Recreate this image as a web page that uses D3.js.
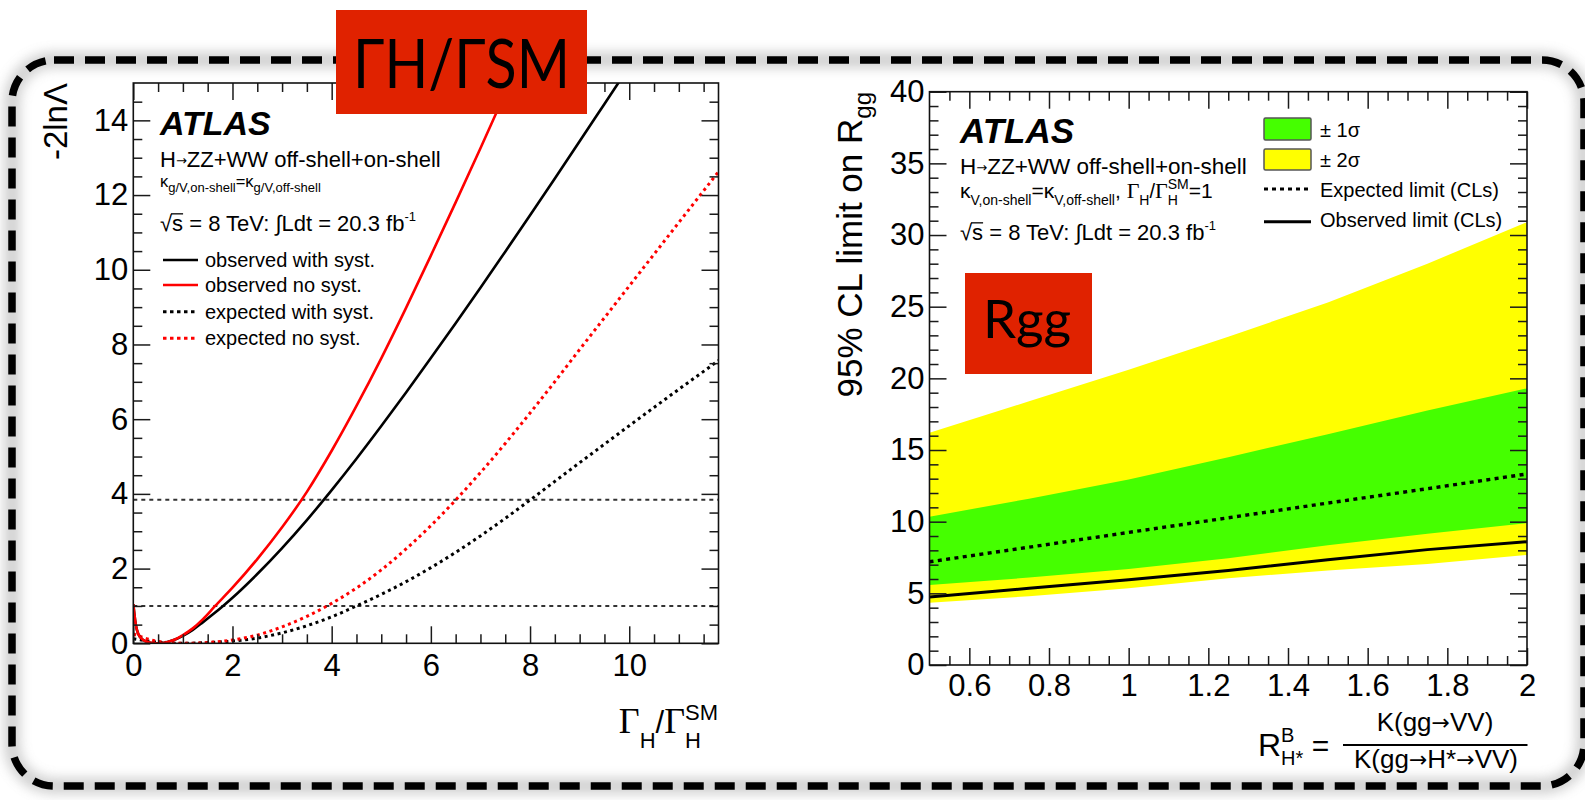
<!DOCTYPE html>
<html>
<head>
<meta charset="utf-8">
<title>Higgs width and R_gg limits</title>
<script src="https://cdn.jsdelivr.net/npm/d3@7/dist/d3.min.js"></script>
<style>
  html, body { margin: 0; padding: 0; background: #ffffff; }
  svg { display: block; }
  text { font-family: "Liberation Sans", Arial, Helvetica, sans-serif; fill: #000; }
</style>
</head>
<body>
<svg id="fig" width="1585" height="800"></svg>
<script>
// ---------- Left panel: -2 ln(Lambda) versus Gamma_H / Gamma_H^SM ----------
const obsSystX   = [0, 0.02, 0.05, 0.1, 0.2, 0.3, 0.45, 0.6, 0.8, 1.0, 1.2, 1.4, 1.6, 1.81, 2, 2.5, 3, 3.5, 4, 4.5, 5, 5.5, 6, 6.5, 7, 7.5, 8, 8.5, 9, 9.5, 10];
const obsSystY   = [1.05, 0.8, 0.5, 0.25, 0.09, 0.03, 0, 0.01, 0.08, 0.2, 0.36, 0.56, 0.77, 1.0, 1.22, 1.855, 2.55, 3.3, 4.1, 4.94, 5.815, 6.715, 7.635, 8.57, 9.52, 10.485, 11.46, 12.445, 13.44, 14.44, 15.44];

const obsNoSystX = [0, 0.02, 0.05, 0.1, 0.2, 0.3, 0.45, 0.6, 0.8, 1.0, 1.2, 1.4, 1.65, 2, 2.5, 3, 3.5, 4, 4.5, 5, 5.5, 6, 6.5, 7, 7.5, 7.7];
const obsNoSystY = [1.05, 0.8, 0.5, 0.25, 0.09, 0.03, 0, 0.01, 0.08, 0.22, 0.4, 0.64, 1.0, 1.49, 2.255, 3.105, 4.055, 5.155, 6.355, 7.63, 8.98, 10.38, 11.805, 13.255, 14.73, 15.33];

const expSystX   = [0, 0.5, 1, 1.5, 2, 2.5, 3, 3.5, 4, 4.5, 5, 5.5, 6, 6.5, 7, 7.5, 8, 8.5, 9, 9.5, 10, 10.5, 11, 11.5, 11.8];
const expSystY   = [0.12, 0.03, 0, 0.02, 0.06, 0.14, 0.28, 0.47, 0.71, 1.0, 1.31, 1.65, 2.025, 2.435, 2.875, 3.345, 3.835, 4.335, 4.835, 5.33, 5.825, 6.315, 6.8, 7.28, 7.57];

const expNoSystX = [0, 0.5, 1, 1.5, 2, 2.5, 3, 3.5, 4, 4.5, 5, 5.5, 6, 6.5, 7, 7.5, 8, 8.5, 9, 9.5, 10, 10.5, 11, 11.5, 11.8];
const expNoSystY = [0.25, 0.05, 0, 0.02, 0.09, 0.22, 0.44, 0.72, 1.07, 1.48, 1.965, 2.525, 3.15, 3.835, 4.57, 5.35, 6.165, 7.005, 7.865, 8.715, 9.565, 10.415, 11.265, 12.115, 12.625];

const nllThresholds = [1, 3.84];

const gammaMajorTicks  = [0, 2, 4, 6, 8, 10];
const gammaTickLabels  = ["0", "2", "4", "6", "8", "10"];
const nllMajorTicks    = [0, 2, 4, 6, 8, 10, 12, 14];
const nllTickLabels    = ["0", "2", "4", "6", "8", "10", "12", "14"];

const leftLegend = ["observed with syst.", "observed no syst.", "expected with syst.", "expected no syst."];

// ---------- Right panel: 95% CL limit on R_gg versus R^B_H* ----------
const rB          = [0.5, 0.75, 1.0, 1.25, 1.5, 1.75, 2.0];
const band2Upper  = [16.2, 18.4, 20.6, 22.9, 25.3, 28.0, 30.9];
const band1Upper  = [10.35, 11.6, 12.95, 14.5, 16.1, 17.75, 19.3];
const expectedLim = [7.2, 8.22, 9.25, 10.27, 11.3, 12.3, 13.33];
const band1Lower  = [5.58, 6.1, 6.7, 7.45, 8.35, 9.15, 9.9];
const band2Lower  = [4.35, 4.8, 5.35, 6.05, 6.6, 7.05, 7.68];
const observedLim = [4.75, 5.35, 5.95, 6.6, 7.35, 8.05, 8.6];

const rbMajorTicks  = [0.6, 0.8, 1.0, 1.2, 1.4, 1.6, 1.8, 2.0];
const rbTickLabels  = ["0.6", "0.8", "1", "1.2", "1.4", "1.6", "1.8", "2"];
const rggMajorTicks = [0, 5, 10, 15, 20, 25, 30, 35, 40];
const rggTickLabels = ["0", "5", "10", "15", "20", "25", "30", "35", "40"];

const rightLegend = ["± 1σ", "± 2σ", "Expected limit (CLs)", "Observed limit (CLs)"];

// ---------- drawing ----------
const RED = "#ff0000", GREEN = "#45ff00", YELLOW = "#ffff00", TAG = "#e02200";
const SERIF = "'Liberation Serif', 'Times New Roman', serif";
const ARROW = "'DejaVu Sans', sans-serif";
const svg = d3.select("#fig");
const defs = svg.append("defs");
defs.append("filter").attr("id", "soft")
  .attr("x", "-6%").attr("y", "-8%").attr("width", "112%").attr("height", "116%")
  .append("feGaussianBlur").attr("stdDeviation", 6);

// rounded dashed outline with a soft grey halo
const outline = { x: 12, y: 60, w: 1572, h: 726, r: 42 };
svg.append("rect").attr("x", outline.x).attr("y", outline.y).attr("width", outline.w).attr("height", outline.h)
  .attr("rx", outline.r).attr("fill", "none").attr("stroke", "#8c8c8c").attr("stroke-width", 16)
  .attr("opacity", 0.4).attr("filter", "url(#soft)");
svg.append("rect").attr("x", outline.x).attr("y", outline.y).attr("width", outline.w).attr("height", outline.h)
  .attr("rx", outline.r).attr("fill", "none").attr("stroke", "#000").attr("stroke-width", 7.5)
  .attr("stroke-dasharray", "20,11");

// one text element built from pieces (sub/superscripts, mixed fonts, radical bar);
// returns the enclosing group and the advance width
function rich(parent, parts) {
  const g = parent.append("g");
  const t = g.append("text");
  let cx = 0, baseStart = 0;
  for (const p of parts) {
    const start = p.stack ? baseStart : cx;
    const s = t.append("tspan").attr("x", start).attr("y", p.dy || 0)
      .attr("font-size", p.size).text(p.text);
    if (p.family) s.style("font-family", p.family);
    if (p.italic) s.attr("font-style", "italic");
    if (p.bold) s.attr("font-weight", "bold");
    const w = s.node().getComputedTextLength();
    if (p.bar) {
      g.append("line").attr("x1", start - 1).attr("x2", start + w)
        .attr("y1", (p.dy || 0) - p.size * 0.78).attr("y2", (p.dy || 0) - p.size * 0.78)
        .attr("stroke", "#000").attr("stroke-width", 1.3);
    }
    if (p.stack) cx = Math.max(cx, start + w);
    else { baseStart = start; cx = start + w; }
  }
  return { g, width: cx };
}

// ROOT-style frame: ticks on all four sides pointing inwards, labels bottom/left
function frameAxes(g, x, y, o) {
  const [yb, yt] = y.range();
  const [xl, xr] = x.range();
  const style = sel => {
    sel.select(".domain").remove();
    sel.selectAll("line").attr("stroke", "#1a1a1a").attr("stroke-width", 1.5);
    sel.selectAll("text").attr("font-size", 31).style("font-family", "'Liberation Sans', Arial, sans-serif").attr("fill", "#000");
    sel.attr("font-family", null).attr("font-size", null);
  };
  g.append("g").attr("transform", `translate(0,${yb})`)
    .call(d3.axisBottom(x).tickValues(o.xMajor).tickFormat((d, i) => o.xLabels[i]).tickSizeInner(-17).tickSizeOuter(0).tickPadding(o.xPad)).call(style);
  g.append("g").attr("transform", `translate(0,${yb})`)
    .call(d3.axisBottom(x).tickValues(o.xMinor).tickFormat("").tickSizeInner(-9).tickSizeOuter(0)).call(style);
  g.append("g").attr("transform", `translate(0,${yt})`)
    .call(d3.axisTop(x).tickValues(o.xMajor).tickFormat("").tickSizeInner(-17).tickSizeOuter(0)).call(style);
  g.append("g").attr("transform", `translate(0,${yt})`)
    .call(d3.axisTop(x).tickValues(o.xMinor).tickFormat("").tickSizeInner(-9).tickSizeOuter(0)).call(style);
  g.append("g").attr("transform", `translate(${xl},0)`)
    .call(d3.axisLeft(y).tickValues(o.yMajor).tickFormat((d, i) => o.yLabels[i]).tickSizeInner(-17).tickSizeOuter(0).tickPadding(5)).call(style);
  g.append("g").attr("transform", `translate(${xl},0)`)
    .call(d3.axisLeft(y).tickValues(o.yMinor).tickFormat("").tickSizeInner(-9).tickSizeOuter(0)).call(style);
  g.append("g").attr("transform", `translate(${xr},0)`)
    .call(d3.axisRight(y).tickValues(o.yMajor).tickFormat("").tickSizeInner(-17).tickSizeOuter(0)).call(style);
  g.append("g").attr("transform", `translate(${xr},0)`)
    .call(d3.axisRight(y).tickValues(o.yMinor).tickFormat("").tickSizeInner(-9).tickSizeOuter(0)).call(style);
  g.append("rect").attr("x", xl).attr("y", yt).attr("width", xr - xl).attr("height", yb - yt)
    .attr("fill", "none").attr("stroke", "#111").attr("stroke-width", 1.6);
}

const isMajor = (v, step) => Math.abs(v / step - Math.round(v / step)) < 1e-6;

// ===== left panel =====
const xL = d3.scaleLinear().domain([0, 11.8]).range([133.3, 718.5]);
const yL = d3.scaleLinear().domain([0, 15]).range([643.3, 83]);
const left = svg.append("g");
defs.append("clipPath").attr("id", "clipL").append("rect")
  .attr("x", 133.3).attr("y", 83).attr("width", 718.5 - 133.3).attr("height", 643.3 - 83);

const plotL = left.append("g").attr("clip-path", "url(#clipL)");
nllThresholds.forEach(v => {
  plotL.append("line").attr("x1", xL(0)).attr("x2", xL(11.8)).attr("y1", yL(v)).attr("y2", yL(v))
    .attr("stroke", "#333").attr("stroke-width", 2).attr("stroke-dasharray", "4,4");
});
const lineL = d3.line().x(d => xL(d[0])).y(d => yL(d[1])).curve(d3.curveMonotoneX);
const leftSeries = [
  { xs: expSystX,   ys: expSystY,   color: "#000", dash: "3,3.6", w: 3 },
  { xs: expNoSystX, ys: expNoSystY, color: RED,    dash: "3,3.6", w: 3 },
  { xs: obsSystX,   ys: obsSystY,   color: "#000", dash: null,    w: 2.6 },
  { xs: obsNoSystX, ys: obsNoSystY, color: RED,    dash: null,    w: 2.6 }
];
leftSeries.forEach(s => {
  plotL.append("path").datum(s.xs.map((v, i) => [v, s.ys[i]]))
    .attr("d", lineL).attr("fill", "none").attr("stroke", s.color).attr("stroke-width", s.w)
    .attr("stroke-dasharray", s.dash);
});

frameAxes(left, xL, yL, {
  xMajor: gammaMajorTicks, xLabels: gammaTickLabels, xPad: 11,
  xMinor: d3.range(1, 24).map(k => k * 0.5).filter(v => !isMajor(v, 2)),
  yMajor: nllMajorTicks, yLabels: nllTickLabels,
  yMinor: d3.range(1, 30).map(k => k * 0.5).filter(v => !isMajor(v, 2))
});

left.append("text").attr("transform", "translate(67,83) rotate(-90)")
  .attr("text-anchor", "end").attr("font-size", 33).text("-2lnΛ");

{
  const t = rich(left, [
    { text: "Γ", size: 36, family: SERIF },
    { text: "H", size: 22, dy: 15 },
    { text: "/", size: 31 },
    { text: "Γ", size: 36, family: SERIF },
    { text: "SM", size: 22, dy: -13 },
    { text: "H", size: 22, dy: 15, stack: true }
  ]);
  t.g.attr("transform", `translate(${718 - t.width},733)`);
}

left.append("text").attr("x", 160).attr("y", 135).attr("font-size", 34)
  .attr("font-weight", "bold").attr("font-style", "italic").text("ATLAS");
rich(left, [
  { text: "H", size: 22 }, { text: "→", size: 13, dy: -2, family: ARROW }, { text: "ZZ+WW off-shell+on-shell", size: 22 }
]).g.attr("transform", "translate(160,166.5)");
rich(left, [
  { text: "κ", size: 16.5 }, { text: "g/V,on-shell", size: 13, dy: 5 },
  { text: "=", size: 16.5 }, { text: "κ", size: 16.5 }, { text: "g/V,off-shell", size: 13, dy: 5 }
]).g.attr("transform", "translate(160,187)");
rich(left, [
  { text: "√", size: 22 }, { text: "s", size: 22, bar: true },
  { text: " = 8 TeV: ∫Ldt = 20.3 fb", size: 22 }, { text: "-1", size: 13, dy: -10 }
]).g.attr("transform", "translate(160,231)");

const legRowsL = [260, 285, 311.7, 338.3];
const legStyleL = [
  { color: "#000", dash: null }, { color: RED, dash: null },
  { color: "#000", dash: "3.5,3.5" }, { color: RED, dash: "3.5,3.5" }
];
leftLegend.forEach((label, i) => {
  left.append("line").attr("x1", 163).attr("x2", 198).attr("y1", legRowsL[i]).attr("y2", legRowsL[i])
    .attr("stroke", legStyleL[i].color).attr("stroke-width", legStyleL[i].dash ? 3 : 2.6)
    .attr("stroke-dasharray", legStyleL[i].dash);
  left.append("text").attr("x", 205).attr("y", legRowsL[i] + 7).attr("font-size", 20).text(label);
});

// ===== right panel =====
const xR = d3.scaleLinear().domain([0.5, 2]).range([929.5, 1527]);
const yR = d3.scaleLinear().domain([0, 40]).range([665, 91.7]);
const right = svg.append("g");
const bandArea = (lo, hi) => d3.area().x((d, i) => xR(rB[i])).y0((d, i) => yR(lo[i])).y1((d, i) => yR(hi[i]));
right.append("path").datum(rB).attr("d", bandArea(band2Lower, band2Upper)).attr("fill", YELLOW);
right.append("path").datum(rB).attr("d", bandArea(band1Lower, band1Upper)).attr("fill", GREEN);
const lineR = vals => d3.line().x((d, i) => xR(rB[i])).y((d, i) => yR(vals[i]));
right.append("path").datum(rB).attr("d", lineR(expectedLim)).attr("fill", "none")
  .attr("stroke", "#000").attr("stroke-width", 3.4).attr("stroke-dasharray", "4,4.4");
right.append("path").datum(rB).attr("d", lineR(observedLim)).attr("fill", "none")
  .attr("stroke", "#000").attr("stroke-width", 3);

frameAxes(right, xR, yR, {
  xMajor: rbMajorTicks, xLabels: rbTickLabels, xPad: 9,
  xMinor: d3.range(11, 40).map(k => k / 20).filter(v => !isMajor(v, 0.2)),
  yMajor: rggMajorTicks, yLabels: rggTickLabels,
  yMinor: d3.range(1, 40).filter(v => !isMajor(v, 5))
});

{
  const t = rich(right, [{ text: "95% CL limit on R", size: 35 }, { text: "gg", size: 24, dy: 9 }]);
  t.g.attr("transform", `translate(862,92) rotate(-90) translate(${-t.width},0)`);
}
{
  const t = rich(right, [
    { text: "R", size: 32 }, { text: "B", size: 20, dy: -14 }, { text: "H*", size: 20, dy: 9, stack: true },
    { text: "\u00a0=", size: 30 }
  ]);
  t.g.attr("transform", "translate(1258,756)");
  right.append("line").attr("x1", 1343).attr("x2", 1527.5).attr("y1", 745).attr("y2", 745)
    .attr("stroke", "#000").attr("stroke-width", 2);
  const num = rich(right, [
    { text: "K(gg", size: 26 }, { text: "→", size: 22, dy: -1, family: ARROW }, { text: "VV)", size: 26 }
  ]);
  num.g.attr("transform", `translate(${1435 - num.width / 2},731)`);
  const den = rich(right, [
    { text: "K(gg", size: 26 }, { text: "→", size: 22, dy: -1, family: ARROW }, { text: "H*", size: 26 },
    { text: "→", size: 22, dy: -1, family: ARROW }, { text: "VV)", size: 26 }
  ]);
  den.g.attr("transform", `translate(${1436 - den.width / 2},768)`);
}

right.append("text").attr("x", 960).attr("y", 143).attr("font-size", 35)
  .attr("font-weight", "bold").attr("font-style", "italic").text("ATLAS");
rich(right, [
  { text: "H", size: 22.5 }, { text: "→", size: 13, dy: -2, family: ARROW }, { text: "ZZ+WW off-shell+on-shell", size: 22.5 }
]).g.attr("transform", "translate(960,174)");
rich(right, [
  { text: "κ", size: 21 }, { text: "V,on-shell", size: 14, dy: 7 },
  { text: "=", size: 21 }, { text: "κ", size: 21 }, { text: "V,off-shell", size: 14, dy: 7 },
  { text: ",\u00a0", size: 21 },
  { text: "Γ", size: 22, family: SERIF }, { text: "H", size: 14, dy: 7 },
  { text: "/", size: 20 },
  { text: "Γ", size: 22, family: SERIF }, { text: "SM", size: 14, dy: -9 },
  { text: "H", size: 14, dy: 7, stack: true },
  { text: "=1", size: 21 }
]).g.attr("transform", "translate(960,198)");
rich(right, [
  { text: "√", size: 22 }, { text: "s", size: 22, bar: true },
  { text: " = 8 TeV: ∫Ldt = 20.3 fb", size: 22 }, { text: "-1", size: 13, dy: -10 }
]).g.attr("transform", "translate(960,240)");

// legend
[[GREEN, 118, 22], [YELLOW, 149, 21]].forEach(([c, y, h]) => {
  right.append("rect").attr("x", 1264).attr("y", y).attr("width", 47).attr("height", h).attr("rx", 1.5)
    .attr("fill", c).attr("stroke", "#555").attr("stroke-width", 1.5);
});
right.append("line").attr("x1", 1264).attr("x2", 1311).attr("y1", 189).attr("y2", 189)
  .attr("stroke", "#000").attr("stroke-width", 3).attr("stroke-dasharray", "4,4");
right.append("line").attr("x1", 1264).attr("x2", 1311).attr("y1", 221.7).attr("y2", 221.7)
  .attr("stroke", "#000").attr("stroke-width", 3);
[137, 167, 197, 227].forEach((y, i) => {
  right.append("text").attr("x", 1320).attr("y", y).attr("font-size", 20).text(rightLegend[i]);
});

// ===== red tags =====
svg.append("rect").attr("x", 336).attr("y", 10).attr("width", 251).attr("height", 104).attr("fill", TAG);
svg.append("text").attr("x", 353).attr("y", 88).attr("font-size", 68)
  .style("font-family", "Lato, 'Open Sans', sans-serif")
  .attr("textLength", 217).attr("lengthAdjust", "spacingAndGlyphs").text("ΓH/ΓSM");
svg.append("rect").attr("x", 965).attr("y", 273).attr("width", 127).attr("height", 101).attr("fill", TAG);
svg.append("text").attr("x", 983).attr("y", 338).attr("font-size", 53)
  .style("font-family", "Lato, 'Open Sans', sans-serif").text("Rgg");
</script>
</body>
</html>
